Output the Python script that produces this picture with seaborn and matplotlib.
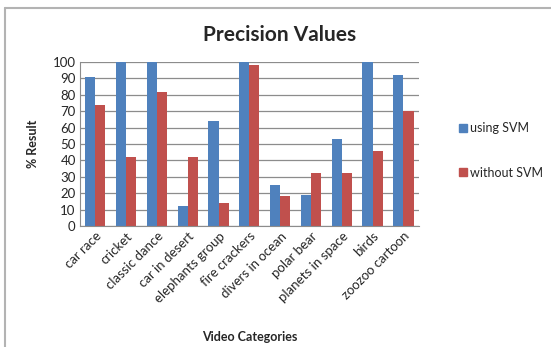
import matplotlib
matplotlib.use("Agg")
import matplotlib.pyplot as plt
import seaborn as sns
import pandas as pd
from matplotlib.lines import Line2D

categories = ["car race", "cricket", "classic dance", "car in desert", "elephants group",
              "fire crackers", "divers in ocean", "polar bear", "planets in space", "birds",
              "zoozoo cartoon"]
using_svm = [91, 100, 100, 12, 64, 100, 25, 19, 53, 100, 92]
without_svm = [74, 42, 82, 42, 14, 98, 18, 32, 32, 46, 70]
series_names = ["using SVM", "without SVM"]
y_ticks = list(range(0, 101, 10))

df = pd.DataFrame({
    "category": categories * 2,
    "value": using_svm + without_svm,
    "series": [series_names[0]] * len(categories) + [series_names[1]] * len(categories),
})

sns.set_style("white")
plt.rcParams["font.family"] = ["Lato", "DejaVu Sans"]

fig = plt.figure(figsize=(5.51, 3.47), dpi=100)
ax = fig.add_axes([0.145, 0.349, 0.615, 0.472])

palette = {"using SVM": "#4F81BD", "without SVM": "#C0504D"}
sns.barplot(data=df, x="category", y="value", hue="series", palette=palette,
            width=0.66, saturation=1, ax=ax, legend=False, linewidth=0)

ax.set_ylim(0, 100)
ax.set_yticks(y_ticks)
ax.set_yticklabels([str(t) for t in y_ticks], fontsize=9.5)
ax.yaxis.grid(True, color="#8c8c8c", linewidth=0.9)
ax.set_axisbelow(True)
ax.set_xlim(-0.5, len(categories) - 0.5)
for s in ["top", "right"]:
    ax.spines[s].set_visible(False)
ax.spines["left"].set_color("#8c8c8c")
ax.spines["bottom"].set_color("#8c8c8c")
ax.tick_params(axis="both", length=0, pad=3)
ax.set_xticks(range(len(categories)))
ax.set_xticklabels(categories, rotation=45, ha="right", rotation_mode="anchor", fontsize=9.5)

ax.set_xlabel("Video Categories", fontsize=9, fontweight="bold", labelpad=0)
ax.xaxis.set_label_coords(0.5, -0.64)
ax.set_ylabel("% Result", fontsize=9, fontweight="bold")
ax.yaxis.set_label_coords(-0.12, 0.5)

fig.text(0.508, 0.9, "Precision Values", ha="center", va="center",
         fontsize=15, fontweight="bold")

handles = [Line2D([0], [0], marker="s", linestyle="none", markersize=6,
                  markerfacecolor=palette[n], markeredgecolor=palette[n]) for n in series_names]
fig.legend(handles, series_names, loc="center left", bbox_to_anchor=(0.81, 0.567),
           frameon=False, fontsize=9, labelspacing=2.6, handletextpad=0.2,
           handlelength=0.8)

fig.add_artist(Line2D([0.009, 1.0], [0.978, 0.978], color="#b3b3b3", linewidth=1.5,
                      transform=fig.transFigure))
fig.add_artist(Line2D([0.009, 0.009], [0.0, 0.978], color="#b3b3b3", linewidth=1.5,
                      transform=fig.transFigure))

fig.savefig("out.png", dpi=100)
